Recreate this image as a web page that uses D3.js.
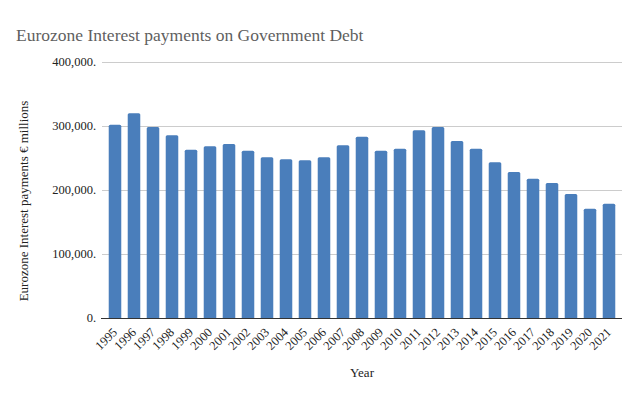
<!DOCTYPE html>
<html>
<head>
<meta charset="utf-8">
<script src="https://cdn.jsdelivr.net/npm/d3@7"></script>
<style>
  body { margin: 0; background: #fff; }
  svg text { font-family: "Liberation Serif", "Times New Roman", serif; }
</style>
</head>
<body>
<svg id="chart" width="640" height="394"></svg>
<script>
var years = ["1995","1996","1997","1998","1999","2000","2001","2002","2003","2004","2005","2006","2007","2008",
  "2009","2010","2011","2012","2013","2014","2015","2016","2017","2018","2019","2020","2021"];
var payments = [302000, 320000, 298400, 285400, 263000, 268200, 271900, 261400, 251000, 247900, 246400, 251200,
  269800, 283300, 261400, 264600, 293200, 298400, 276600, 264600, 243200, 228100, 217700, 210900, 193800, 170800, 178600];
var yTicks = [0, 100000, 200000, 300000, 400000];

var svg = d3.select("#chart");
var plotLeft = 102, plotRight = 622, plotTop = 62, plotBottom = 318;

var x = d3.scaleBand().domain(years).range([105.5, 618.5]).paddingInner(0.34).paddingOuter(0.17);
var y = d3.scaleLinear().domain([0, 400000]).range([plotBottom, plotTop]);

// title
svg.append("text").attr("x", 16).attr("y", 41)
  .attr("font-size", 17.5).attr("fill", "#5f5f5f")
  .text("Eurozone Interest payments on Government Debt");

// gridlines
svg.append("g").selectAll("line").data(yTicks.slice(1)).enter().append("line")
  .attr("x1", plotLeft).attr("x2", plotRight)
  .attr("y1", function (d) { return Math.round(y(d)) + 0.5; })
  .attr("y2", function (d) { return Math.round(y(d)) + 0.5; })
  .attr("stroke", "#cccccc").attr("stroke-width", 1);

// y tick labels
svg.append("g").selectAll("text").data(yTicks).enter().append("text")
  .attr("x", 96).attr("y", function (d) { return y(d) + 4; })
  .attr("text-anchor", "end").attr("font-size", 12.5).attr("fill", "#222")
  .text(function (d) { return d3.format(",")(d) + "."; });

// bars
svg.append("g").selectAll("path").data(payments).enter().append("path")
  .attr("fill", "#4a7ebb")
  .attr("d", function (d, i) {
    var x0 = x(years[i]), w = x.bandwidth(), y0 = y(d), r = 1.5;
    return "M" + x0 + "," + plotBottom + "V" + (y0 + r) + "Q" + x0 + "," + y0 + " " + (x0 + r) + "," + y0 +
      "H" + (x0 + w - r) + "Q" + (x0 + w) + "," + y0 + " " + (x0 + w) + "," + (y0 + r) + "V" + plotBottom + "Z";
  });

// baseline
svg.append("line").attr("x1", 101).attr("x2", plotRight)
  .attr("y1", plotBottom + 0.5).attr("y2", plotBottom + 0.5)
  .attr("stroke", "#333").attr("stroke-width", 1);

// x labels
svg.append("g").selectAll("text").data(years).enter().append("text")
  .attr("transform", function (d) {
    return "translate(" + (x(d) + x.bandwidth() / 2 + 3) + "," + (plotBottom + 15) + ") rotate(-45)";
  })
  .attr("text-anchor", "end").attr("font-size", 12.5).attr("fill", "#222")
  .text(function (d) { return d; });

// axis titles
svg.append("text").attr("x", 362).attr("y", 377).attr("text-anchor", "middle")
  .attr("font-size", 13).attr("fill", "#222").text("Year");
svg.append("text").attr("transform", "translate(28,201) rotate(-90)")
  .attr("text-anchor", "middle").attr("font-size", 13).attr("fill", "#222")
  .text("Eurozone Interest payments € millions");
</script>
</body>
</html>
